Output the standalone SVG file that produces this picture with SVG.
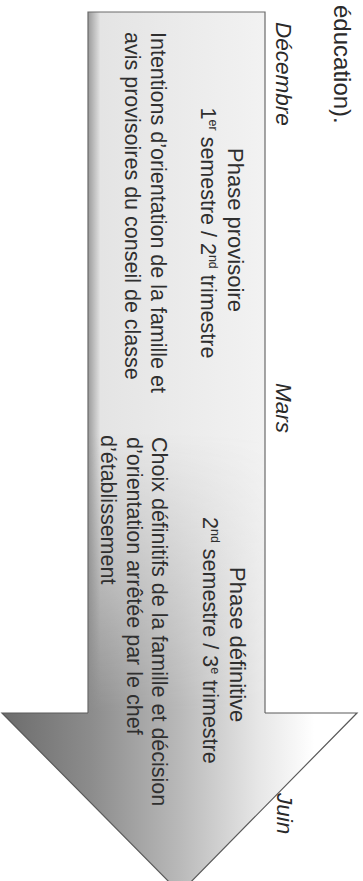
<svg xmlns="http://www.w3.org/2000/svg" width="363" height="881" viewBox="0 0 363 881">
  <style>
    text { font-family: "Liberation Sans", Arial, sans-serif; fill: #2f2f2f; font-size: 21.5px; }
    .month { font-style: italic; font-size: 22.5px; fill: #2a2a2a; }
    .big { font-size: 24px; fill: #2a2a2a; }
    .head { font-size: 22px; }
    .sup { font-size: 12.5px; }
  </style>
  <defs>
    <linearGradient id="gH" gradientUnits="userSpaceOnUse" x1="2" y1="0" x2="357" y2="0">
      <stop offset="0" stop-color="#6c6c6c"/>
      <stop offset="0.25" stop-color="#8c8c8c"/>
      <stop offset="0.5" stop-color="#b9b9b9"/>
      <stop offset="0.72" stop-color="#e6e6e6"/>
      <stop offset="0.88" stop-color="#ffffff"/>
      <stop offset="1" stop-color="#ffffff"/>
    </linearGradient>
    <linearGradient id="gTop" gradientUnits="userSpaceOnUse" x1="88" y1="0" x2="265" y2="0">
      <stop offset="0" stop-color="#9a9a9a"/>
      <stop offset="0.07" stop-color="#e4e4e4"/>
      <stop offset="0.6" stop-color="#ececec"/>
      <stop offset="1" stop-color="#f2f2f2"/>
    </linearGradient>
    <linearGradient id="gFade" gradientUnits="userSpaceOnUse" x1="0" y1="12" x2="0" y2="713">
      <stop offset="0" stop-color="#ffffff"/>
      <stop offset="0.6" stop-color="#ffffff"/>
      <stop offset="1" stop-color="#000000"/>
    </linearGradient>
    <mask id="fadeMask" maskUnits="userSpaceOnUse" x="0" y="0" width="363" height="881">
      <rect x="0" y="0" width="363" height="881" fill="url(#gFade)"/>
    </mask>
  </defs>

  <g id="arrow">
    <polygon points="88,12 265,12 265,713 357,713 180,893 2,713 88,713" fill="url(#gH)" stroke="none"/>
    <rect x="88" y="12" width="177" height="701" fill="url(#gTop)" mask="url(#fadeMask)"/>
    <polyline points="88,713 88,12 265,12 265,713" fill="none" stroke="#6a6a6a" stroke-width="1.2"/>
    <polyline points="265,713 357,713 180,893 2,713 88,713" fill="none" stroke="#5a5a5a" stroke-width="1.2"/>
  </g>

  <g id="connectors"></g>

  <g id="header-text">
    <text class="big" x="334" y="5" transform="rotate(90 334 5)">éducation).</text>
  </g>

  <g id="month-decembre">
    <text class="month" x="276" y="22" transform="rotate(90 276 22)">Décembre</text>
  </g>
  <g id="month-mars">
    <text class="month" x="276" y="383" transform="rotate(90 276 383)">Mars</text>
  </g>
  <g id="month-juin">
    <text class="month" x="277" y="793" transform="rotate(90 277 793)">Juin</text>
  </g>

  <g id="phase-provisoire">
    <text class="head" x="228" y="230" text-anchor="middle" transform="rotate(90 228 230)">Phase provisoire</text>
    <text x="201" y="233" text-anchor="middle" transform="rotate(90 201 233)">1<tspan class="sup" dy="-8">er</tspan><tspan dy="8"> semestre / 2</tspan><tspan class="sup" dy="-8">nd</tspan><tspan dy="8"> trimestre</tspan></text>
    <text x="151" y="32" transform="rotate(90 151 32)">Intentions d’orientation de la famille et</text>
    <text x="125" y="32" transform="rotate(90 125 32)">avis provisoires du conseil de classe</text>
  </g>

  <g id="phase-definitive">
    <text class="head" x="230" y="567" transform="rotate(90 230 567)">Phase définitive</text>
    <text x="203" y="517" transform="rotate(90 203 517)">2<tspan class="sup" dy="-8">nd</tspan><tspan dy="8"> semestre / 3</tspan><tspan class="sup" dy="-8">e</tspan><tspan dy="8"> trimestre</tspan></text>
    <text x="152" y="437" transform="rotate(90 152 437)">Choix définitifs de la famille et décision</text>
    <text x="127" y="437" transform="rotate(90 127 437)">d’orientation arrêtée par le chef</text>
    <text x="101" y="435" transform="rotate(90 101 435)">d’établissement</text>
  </g>
</svg>
